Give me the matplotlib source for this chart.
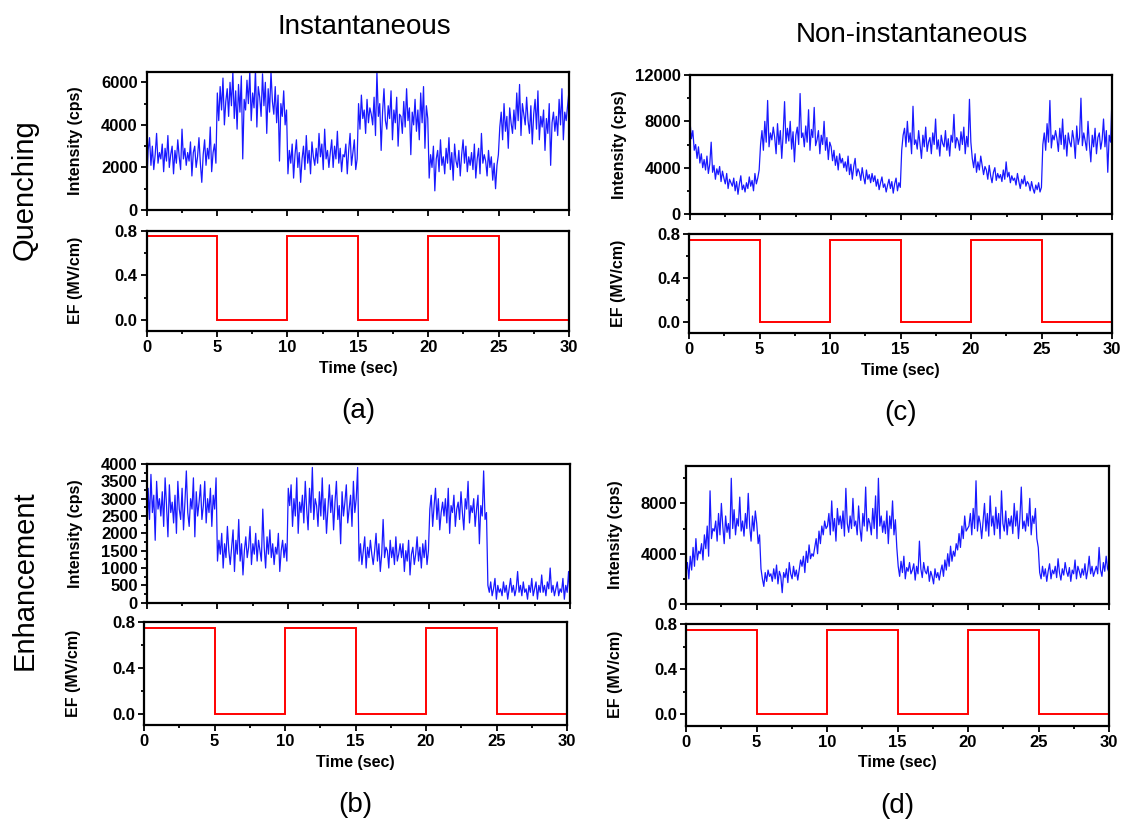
import numpy as np
import matplotlib
matplotlib.use("Agg")
import matplotlib.pyplot as plt
from matplotlib.ticker import MultipleLocator

plt.rcParams['font.family'] = ['Liberation Sans', 'DejaVu Sans']

# intensity traces, every 0.1 s, in units of 100 cps
# (a) quenching, instantaneous
quench_inst = [
    10, 28, 34, 21, 30, 19, 26, 36, 22, 27,
    24, 31, 18, 29, 23, 35, 20, 26, 30, 17,
    28, 22, 33, 25, 19, 38, 24, 29, 21, 27,
    23, 32, 16, 27, 30, 20, 25, 34, 22, 13,
    26, 33, 21, 29, 24, 39, 18, 27, 31, 22,
    55, 42, 58, 47, 62, 40, 51, 57, 44, 60,
    49, 65, 43, 56, 38, 59, 46, 63, 24, 52,
    47, 61, 50, 65, 42, 55, 48, 66, 39, 58,
    53, 44, 64, 49, 60, 36, 57, 46, 65, 51,
    45, 58, 41, 54, 23, 50, 44, 56, 40, 47,
    17, 28, 22, 31, 15, 26, 33, 20, 27, 13,
    24, 30, 19, 35, 22, 28, 17, 32, 25, 21,
    29, 22, 36, 25, 31, 19, 38, 24, 28, 20,
    27, 33, 20, 30, 24, 37, 22, 29, 18, 26,
    25, 31, 17, 28, 36, 21, 27, 33, 19, 24,
    50, 38, 54, 43, 47, 36, 52, 41, 48, 45,
    40, 53, 35, 65, 44, 50, 28, 46, 57, 42,
    38, 49, 43, 56, 33, 47, 41, 53, 30, 45,
    44, 36, 51, 39, 57, 42, 48, 26, 46, 40,
    52, 37, 47, 33, 55, 41, 58, 29, 49, 43,
    15, 26, 20, 30, 9, 24, 28, 18, 33, 21,
    25, 17, 29, 22, 34, 19, 27, 14, 31, 23,
    20, 28, 16, 26, 33, 22, 30, 18, 25, 21,
    27, 19, 31, 15, 24, 29, 17, 36, 22, 26,
    23, 16, 28, 20, 25, 14, 22, 10, 21, 26,
    39, 46, 33, 50, 37, 44, 29, 48, 41, 36,
    47, 38, 55, 42, 59, 35, 50, 45, 40, 53,
    42, 36, 49, 31, 45, 52, 38, 56, 33, 44,
    39, 47, 28, 43, 36, 50, 21, 41, 46, 37,
    44, 35, 52, 40, 57, 33, 46, 42, 49, 56,
]

# (b) enhancement, instantaneous
enh_inst = [
    15, 33, 24, 37, 26, 31, 18, 35, 27, 30,
    25, 32, 22, 36, 28, 19, 34, 26, 29, 23,
    31, 20, 35, 27, 24, 33, 21, 29, 38, 26,
    22, 30, 27, 36, 19, 32, 25, 29, 34, 24,
    28, 35, 23, 30, 26, 33, 22, 31, 27, 36,
    12, 18, 14, 20, 10, 17, 13, 22, 15, 11,
    16, 21, 9, 18, 14, 24, 12, 17, 8, 15,
    19, 13, 16, 22, 11, 17, 14, 20, 12, 18,
    15, 12, 27, 16, 10, 19, 14, 21, 13, 17,
    11, 16, 14, 20, 9, 15, 18, 13, 17, 12,
    33, 28, 34, 22, 30, 25, 36, 20, 29, 26,
    31, 23, 35, 27, 21, 33, 26, 39, 24, 30,
    28, 22, 32, 25, 36, 24, 30, 20, 27, 34,
    26, 31, 21, 29, 35, 24, 28, 17, 32, 25,
    29, 34, 23, 27, 31, 22, 35, 26, 30, 39,
    12, 17, 11, 15, 19, 10, 16, 13, 18, 14,
    11, 15, 20, 12, 17, 9, 14, 24, 13, 16,
    15, 10, 18, 13, 16, 11, 19, 12, 14, 17,
    13, 17, 9, 15, 12, 18, 8, 14, 16, 11,
    14, 19, 12, 16, 10, 17, 13, 18, 11, 15,
    27, 31, 22, 28, 33, 24, 30, 21, 26, 29,
    25, 30, 23, 33, 20, 28, 26, 31, 22, 27,
    29, 24, 32, 26, 21, 30, 27, 35, 23, 28,
    26, 30, 22, 27, 31, 17, 28, 25, 38, 24,
    26, 5, 3, 6, 2, 4, 7, 1, 5, 3,
    4, 2, 6, 3, 5, 1, 4, 7, 3, 5,
    2, 4, 9, 3, 5, 2, 6, 3, 4, 1,
    5, 3, 7, 2, 4, 6, 1, 5, 3, 8,
    3, 5, 2, 6, 4, 10, 3, 5, 2, 4,
    6, 2, 4, 3, 7, 1, 5, 3, 9, 2,
]

# (c) quenching, non-instantaneous
quench_slow = [
    80, 65, 72, 55, 60, 48, 58, 44, 52, 40,
    47, 38, 50, 35, 43, 62, 36, 42, 30, 39,
    34, 41, 28, 37, 31, 26, 35, 22, 30, 27,
    24, 31, 20, 28, 17, 26, 33, 21, 25, 19,
    27, 22, 32, 24, 29, 20, 35, 26, 31, 38,
    60, 72, 55, 80, 62, 98, 58, 70, 64, 75,
    66, 52, 78, 60, 72, 48, 69, 97, 61, 74,
    63, 80, 56, 71, 45, 68, 75, 60, 104, 66,
    70, 58, 76, 62, 90, 55, 73, 66, 92, 59,
    64, 72, 52, 68, 60, 80, 55, 66, 47, 62,
    58, 46, 55, 42, 50, 38, 52, 44, 48, 40,
    45, 37, 50, 34, 43, 30, 41, 48, 33, 39,
    36, 29, 40, 32, 26, 38, 30, 34, 27, 35,
    28, 33, 24, 30, 21, 27, 32, 23, 26, 19,
    25, 30, 22, 28, 18, 26, 31, 20, 27, 23,
    55, 68, 74, 58, 80, 62, 70, 52, 93, 60,
    64, 56, 72, 60, 48, 68, 58, 75, 54, 62,
    66, 52, 70, 60, 82, 56, 64, 50, 68, 61,
    58, 72, 55, 65, 50, 68, 62, 86, 57, 66,
    63, 55, 71, 60, 75, 52, 67, 58, 99, 62,
    48, 40, 52, 36, 45, 38, 50, 42, 34, 41,
    38, 30, 42, 33, 27, 36, 40, 29, 35, 31,
    34, 28, 38, 30, 45, 32, 36, 27, 33, 29,
    31, 25, 35, 28, 22, 30, 26, 33, 24, 28,
    26, 20, 28, 22, 18, 25, 21, 27, 19, 23,
    60, 70, 55, 78, 62, 98, 57, 68, 64, 72,
    65, 54, 74, 60, 82, 56, 68, 50, 70, 62,
    58, 72, 64, 48, 76, 60, 66, 100, 59, 70,
    63, 55, 80, 60, 45, 68, 58, 74, 52, 66,
    70, 56, 64, 82, 58, 72, 36, 68, 62, 101,
]

# (d) enhancement, non-instantaneous
enh_slow = [
    25, 33, 20, 38, 27, 45, 30, 52, 35, 42,
    40, 48, 35, 55, 44, 62, 38, 90, 52, 60,
    58, 66, 50, 72, 55, 80, 62, 48, 70, 57,
    64, 52, 100, 60, 75, 55, 68, 62, 85, 58,
    66, 54, 72, 60, 88, 62, 50, 70, 58, 74,
    64, 48, 55, 28, 20, 14, 25, 18, 27, 22,
    24, 18, 28, 20, 31, 16, 26, 22, 9, 25,
    21, 28, 17, 33, 24, 20, 30, 22, 27, 19,
    27, 35, 30, 38, 25, 42, 33, 47, 36, 40,
    38, 45, 52, 40, 58, 48, 62, 55, 66, 60,
    62, 72, 55, 82, 58, 68, 50, 76, 63, 70,
    60, 74, 54, 92, 64, 57, 70, 60, 84, 62,
    66, 55, 78, 60, 50, 72, 62, 93, 58, 68,
    64, 55, 76, 60, 86, 52, 100, 62, 70, 57,
    66, 56, 74, 48, 70, 60, 82, 55, 67, 45,
    30, 22, 34, 25, 38, 20, 29, 26, 33, 24,
    27, 32, 19, 30, 24, 50, 28, 21, 33, 26,
    24, 30, 18, 26, 22, 16, 28, 21, 25, 19,
    26, 31, 22, 35, 27, 40, 30, 46, 34, 42,
    38, 48, 43, 56, 45, 62, 52, 70, 58, 60,
    62, 72, 55, 76, 60, 98, 58, 70, 64, 52,
    66, 80, 58, 72, 54, 86, 62, 70, 55, 77,
    60, 72, 52, 90, 64, 58, 74, 55, 68, 62,
    70, 56, 80, 62, 74, 52, 68, 93, 60, 66,
    58, 72, 62, 84, 55, 70, 64, 76, 52, 45,
    25, 20, 30, 22, 28, 18, 26, 32, 20, 27,
    24, 30, 21, 36, 25, 19, 28, 23, 33, 26,
    22, 29, 18, 27, 24, 35, 20, 30, 26, 21,
    28, 23, 32, 20, 27, 38, 24, 30, 22, 26,
    30, 24, 45, 27, 22, 33, 26, 38, 28, 25,
]

# applied field: on/off every 5 s
ef_edges = [0, 5, 10, 15, 20, 25, 30]
ef_levels = [0.75, 0, 0.75, 0, 0.75, 0]

W, H = 1121, 825
fig = plt.figure(figsize=(W / 100, H / 100), dpi=100)


def box(l, r, t, b):
    return [l / W, 1 - b / H, (r - l) / W, (b - t) / H]


def style(ax):
    for s in ax.spines.values():
        s.set_linewidth(1.6)
    ax.tick_params(which='both', direction='out', width=1.3, top=False, right=False, pad=2.5)
    ax.tick_params(which='major', length=4)
    ax.tick_params(which='minor', length=2.5)
    ax.set_xlim(0, 30)
    ax.xaxis.set_major_locator(MultipleLocator(5))
    ax.xaxis.set_minor_locator(MultipleLocator(2.5))
    for lab in ax.get_xticklabels() + ax.get_yticklabels():
        lab.set_fontweight('bold')
        lab.set_fontsize(12)


panels = [
    # trace, ylim top, major, minor, intensity box, EF box, letter
    (quench_inst, 6500, 2000, 1000, (146.7, 569, 71.7, 210), (146.7, 569, 230.7, 331), '(a)'),
    (enh_inst, 4000, 500, 250, (146.7, 570, 464, 602.7), (144, 567, 622, 725), '(b)'),
    (quench_slow, 12000, 4000, 2000, (690, 1112, 75, 214), (689, 1112, 234, 333.3), '(c)'),
    (enh_slow, 11000, 4000, 2000, (686, 1109, 465.7, 604), (686, 1109, 624, 725.7), '(d)'),
]

for trace, ytop, maj, mnr, ibox, ebox, letter in panels:
    vals = np.array(trace) * 100
    t = np.linspace(0, 30, len(vals))
    ax = fig.add_axes(box(*ibox))
    ax.plot(t, vals, color='#0000ff', lw=0.9, alpha=0.9)
    ax.set_ylim(0, ytop)
    ax.yaxis.set_major_locator(MultipleLocator(maj))
    ax.yaxis.set_minor_locator(MultipleLocator(mnr))
    ax.set_xticklabels([])
    style(ax)
    ax.set_ylabel('Intensity (cps)', fontsize=11.5, fontweight='bold')
    ax.yaxis.set_label_coords(-0.15, 0.5)

    ax2 = fig.add_axes(box(*ebox))
    ax2.stairs(ef_levels, ef_edges, baseline=None, color='red', lw=1.4)
    ax2.set_ylim(-0.1, 0.8)
    ax2.yaxis.set_major_locator(MultipleLocator(0.4))
    ax2.yaxis.set_minor_locator(MultipleLocator(0.2))
    style(ax2)
    ax2.set_ylabel('EF (MV/cm)', fontsize=11.5, fontweight='bold')
    ax2.yaxis.set_label_coords(-0.15, 0.5)
    ax2.set_xlabel('Time (sec)', fontsize=11.5, fontweight='bold', labelpad=4)

    cx = (ebox[0] + ebox[1]) / 2
    fig.text(cx / W, 1 - (ebox[3] + 80) / H, letter, fontsize=20, ha='center', va='center')

fig.text(364 / W, 1 - 27 / H, 'Instantaneous', fontsize=20, ha='center', va='center')
fig.text(912 / W, 1 - 35 / H, 'Non-instantaneous', fontsize=20, ha='center', va='center')
fig.text(25 / W, 1 - 190 / H, 'Quenching', fontsize=21, rotation=90, ha='center', va='center')
fig.text(25 / W, 1 - 580 / H, 'Enhancement', fontsize=21, rotation=90, ha='center', va='center')

fig.savefig('out.png', dpi=100)
